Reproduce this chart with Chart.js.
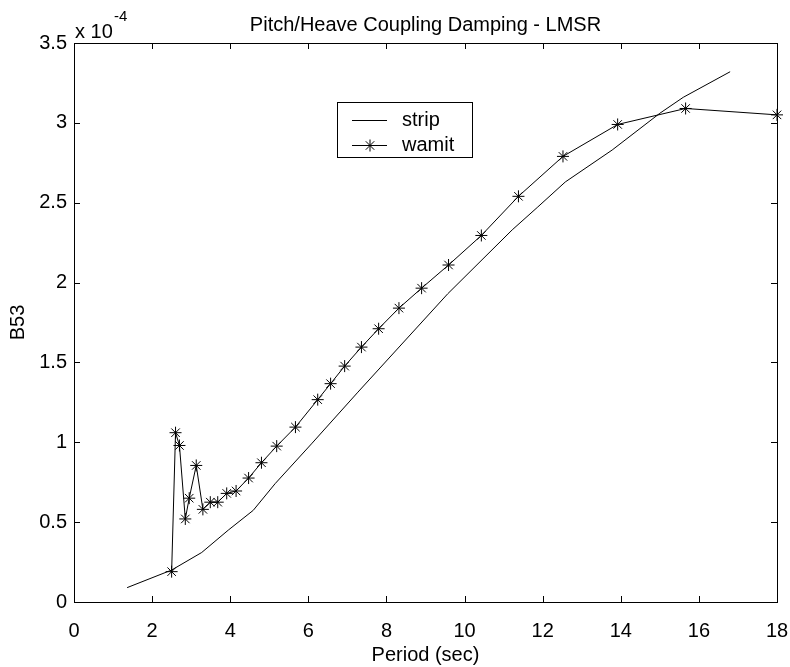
<!DOCTYPE html>
<html>
<head>
<meta charset="utf-8">
<script src="https://cdn.jsdelivr.net/npm/chart.js@4/dist/chart.umd.min.js"></script>
<style>
  html, body { margin:0; padding:0; background:#fff; }
  #c { display:block; }
</style>
</head>
<body>
<canvas id="c" width="790" height="667"></canvas>
<script>
// B53 values are in units of 1e-4
const stripPeriod = [1.36, 2.5, 3.27, 3.95, 4.59, 5.15, 6.08, 7.27, 9.57, 11.22, 11.86, 12.58, 13.78, 15.0, 15.6, 16.8];
const stripB53    = [0.09, 0.2, 0.31, 0.45, 0.574, 0.741, 0.99, 1.314, 1.93, 2.33, 2.47, 2.63, 2.83, 3.06, 3.16, 3.32];

const wamitPeriod = [2.5, 2.6, 2.7, 2.85, 2.95, 3.13, 3.3, 3.49, 3.68, 3.91, 4.15, 4.47, 4.8, 5.19, 5.67, 6.24, 6.57, 6.93, 7.36, 7.8, 8.32, 8.9, 9.59, 10.43, 11.38, 12.52, 13.92, 15.66, 18];
const wamitB53    = [0.19, 1.06, 0.98, 0.52, 0.65, 0.855, 0.58, 0.625, 0.625, 0.68, 0.695, 0.776, 0.872, 0.976, 1.095, 1.267, 1.367, 1.477, 1.596, 1.711, 1.84, 1.965, 2.11, 2.295, 2.54, 2.79, 2.99, 3.09, 3.05];

const xTicks = [0, 2, 4, 6, 8, 10, 12, 14, 16, 18];
const yTicks = [0, 0.5, 1, 1.5, 2, 2.5, 3, 3.5];

const titleText = 'Pitch/Heave Coupling Damping - LMSR';
const seriesNames = ['strip', 'wamit'];

const FONT = '"Liberation Sans", Arial, sans-serif';

function toXY(xs, ys){ return xs.map((x,i)=>({x, y:ys[i]})); }

// frame, inward ticks, title, exponent label and legend
const matlabLook = {
  id:'matlabLook',
  afterDraw(chart){
    const ctx = chart.ctx, a = chart.chartArea;
    const sx = chart.scales.x, sy = chart.scales.y;
    ctx.save();
    ctx.strokeStyle = '#000';
    ctx.lineWidth = 1;
    ctx.strokeRect(a.left + 0.5, a.top + 0.5, a.right - a.left, a.bottom - a.top);
    ctx.beginPath();
    const tl = 6;
    xTicks.forEach(v=>{
      const p = Math.round(sx.getPixelForValue(v)) + 0.5;
      ctx.moveTo(p, a.bottom); ctx.lineTo(p, a.bottom - tl);
      ctx.moveTo(p, a.top); ctx.lineTo(p, a.top + tl);
    });
    yTicks.forEach(v=>{
      const p = Math.round(sy.getPixelForValue(v)) + 0.5;
      ctx.moveTo(a.left, p); ctx.lineTo(a.left + tl, p);
      ctx.moveTo(a.right, p); ctx.lineTo(a.right - tl, p);
    });
    ctx.stroke();

    // title
    ctx.fillStyle = '#000';
    ctx.font = '20px ' + FONT;
    ctx.textAlign = 'center';
    ctx.textBaseline = 'middle';
    ctx.fillText(titleText, (a.left + a.right) / 2, 25);

    // exponent
    ctx.textAlign = 'left';
    ctx.font = '20px ' + FONT;
    ctx.fillText('x 10', a.left + 1, 32);
    ctx.font = '15px ' + FONT;
    ctx.fillText('-4', a.left + 40, 17);

    // legend
    const lx = 337, ly = 102, lw = 135, lh = 55;
    ctx.fillStyle = '#fff';
    ctx.fillRect(lx, ly, lw, lh);
    ctx.strokeRect(lx + 0.5, ly + 0.5, lw, lh);
    ctx.fillStyle = '#000';
    ctx.font = '20px ' + FONT;
    const rows = [120, 145];
    rows.forEach((y, i)=>{
      ctx.beginPath();
      ctx.moveTo(352, y + 0.5); ctx.lineTo(387, y + 0.5);
      ctx.stroke();
      ctx.fillText(seriesNames[i], 402, y);
    });
    Chart.helpers.drawPoint(ctx, {pointStyle:'star', radius:6, rotation:0, borderWidth:1}, 370, 145.5);
    ctx.restore();
  }
};

new Chart(document.getElementById('c'), {
  type:'line',
  data:{
    datasets:[
      { label:seriesNames[0], data:toXY(stripPeriod, stripB53), borderColor:'#000', borderWidth:1,
        pointRadius:0, tension:0, fill:false, clip:false },
      { label:seriesNames[1], data:toXY(wamitPeriod, wamitB53), borderColor:'#000', borderWidth:1,
        pointStyle:'star', pointRadius:6, pointBorderWidth:1, pointBorderColor:'#000',
        tension:0, fill:false, clip:false }
    ]
  },
  plugins:[matlabLook],
  options:{
    responsive:false,
    animation:false,
    devicePixelRatio:1,
    layout:{ padding:{ top:43, right:13, bottom:0, left:6 } },
    plugins:{ legend:{display:false}, title:{display:false}, tooltip:{enabled:false} },
    scales:{
      x:{
        type:'linear', min:0, max:18,
        afterFit(s){ s.height = 65; s.paddingLeft = 0; s.paddingRight = 0; },
        afterBuildTicks(s){ s.ticks = xTicks.map(v=>({value:v})); },
        grid:{ display:false, drawTicks:false },
        border:{ display:false },
        ticks:{ color:'#000', font:{ family:FONT, size:20 }, padding:17, maxRotation:0, autoSkip:false,
                callback:v=>String(v) },
        title:{ display:true, text:'Period (sec)', color:'#000', font:{ family:FONT, size:20 }, padding:0 }
      },
      y:{
        type:'linear', min:0, max:3.5,
        afterFit(s){ s.width = 68; s.paddingTop = 0; s.paddingBottom = 0; },
        afterBuildTicks(s){ s.ticks = yTicks.map(v=>({value:v})); },
        grid:{ display:false, drawTicks:false },
        border:{ display:false },
        ticks:{ color:'#000', font:{ family:FONT, size:20 }, padding:7, autoSkip:false,
                callback:v=>String(v) },
        title:{ display:true, text:'B53', color:'#000', font:{ family:FONT, size:20 }, padding:0 }
      }
    }
  }
});
</script>
</body>
</html>
